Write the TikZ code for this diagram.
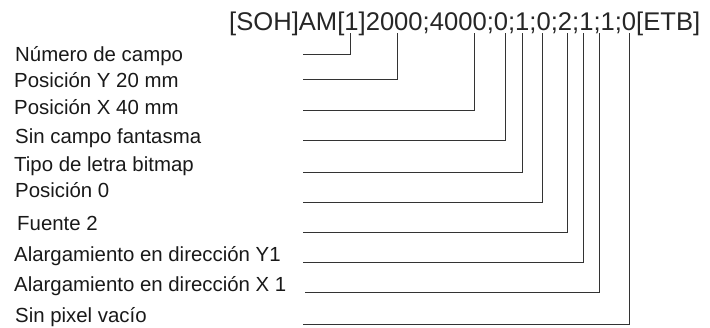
\documentclass[tikz,border=0pt]{standalone}
\usepackage{fontspec}
\setmainfont{Liberation Sans}
\begin{document}
\begin{tikzpicture}[x=1pt,y=-1pt,
  lbl/.style={anchor=base west,inner sep=0pt,font=\fontsize{20.4}{24}\selectfont,text=black!90},
  hdr/.style={anchor=base west,inner sep=0pt,font=\fontsize{25.6}{30}\selectfont,text=black!85},
  conn/.style={draw=black!80,line width=1pt}]
\useasboundingbox (0,0) rectangle (710,327);
\node[hdr] (h) at (229,30) {[SOH]AM[1]2000;4000;0;1;0;2;1;1;0[ETB]};
\node[lbl] (l1) at (15,61) {Número de campo};
\node[lbl] (l2) at (14,87) {Posición Y 20 mm};
\node[lbl] (l3) at (14,114) {Posición X 40 mm};
\node[lbl] (l4) at (15,143) {Sin campo fantasma};
\node[lbl] (l5) at (14,171) {Tipo de letra bitmap};
\node[lbl] (l6) at (15,197) {Posición 0};
\node[lbl] (l7) at (17,230) {Fuente 2};
\node[lbl] (l8) at (14,261) {Alargamiento en dirección Y1};
\node[lbl] (l9) at (14,291) {Alargamiento en dirección X 1};
\node[lbl] (l10) at (15,322) {Sin pixel vacío};
\foreach \i/\y/\x/\sx in {1/54/350/303,2/79/397/303,3/110/474/303,4/140/505/303,5/172/522/303,6/202/542/303,7/232/567/303,8/262/583/303,9/292/599/305,10/324/629/303}{
  \coordinate (s\i) at (\sx,\y);
  \coordinate (t\i) at (\x,33);
  \draw[conn] (s\i) -| (t\i);
}
\end{tikzpicture}
\end{document}
